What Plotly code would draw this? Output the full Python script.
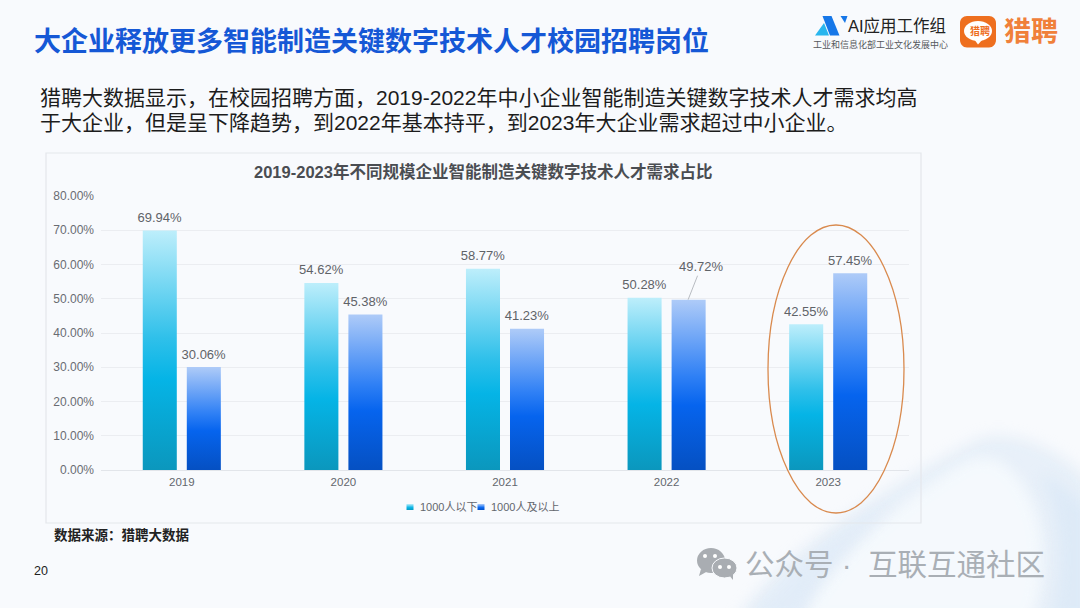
import plotly.graph_objects as go

W, H = 1080, 608
FONT = "Liberation Sans, Noto Sans CJK SC, sans-serif"

years = ["2019", "2020", "2021", "2022", "2023"]
small_name = "1000人以下"
large_name = "1000人及以上"
small_values = [69.94, 54.62, 58.77, 50.28, 42.55]
large_values = [30.06, 45.38, 41.23, 49.72, 57.45]

headline = "大企业释放更多智能制造关键数字技术人才校园招聘岗位"
body_1 = "猎聘大数据显示，在校园招聘方面，2019-2022年中小企业智能制造关键数字技术人才需求均高"
body_2 = "于大企业，但是呈下降趋势，到2022年基本持平，到2023年大企业需求超过中小企业。"
chart_title = "2019-2023年不同规模企业智能制造关键数字技术人才需求占比"
source_note = "数据来源：猎聘大数据"
page_no = "20"
watermark = "公众号 ·\u00a0 互联互通社区"

BG = "#f8fafd"


def px(x):
    return x / W


def py(y):
    return 1 - y / H


def note(text, x, y, size, color, bold=False, anchor="left"):
    t = f"<b>{text}</b>" if bold else text
    return dict(text=t, xref="paper", yref="paper", x=px(x), y=py(y), xanchor=anchor,
                yanchor="middle", showarrow=False, font=dict(family=FONT, size=size, color=color))


def path(d_px):
    """Turn a list of (cmd, x, y, ...) pixel tokens into a paper-space SVG path."""
    out = []
    for seg in d_px:
        cmd, pts = seg[0], seg[1:]
        coords = " ".join(f"{px(pts[i]):.5f},{py(pts[i + 1]):.5f}" for i in range(0, len(pts), 2))
        out.append(f"{cmd}{coords}")
    return " ".join(out) + " Z"


def blob(d_px, color, layer="above"):
    return dict(type="path", xref="paper", yref="paper", path=path(d_px), fillcolor=color,
                line=dict(width=0), layer=layer)


def ell(x0, y0, x1, y1, fill=None, line=None, width=0):
    return dict(type="circle", xref="paper", yref="paper", x0=px(x0), x1=px(x1), y0=py(y0), y1=py(y1),
                fillcolor=fill if fill else "rgba(0,0,0,0)",
                line=dict(color=line if line else "rgba(0,0,0,0)", width=width), layer="above")


fig = go.Figure()
fig.add_bar(name=small_name, x=years, y=small_values,
            text=[f"{v:.2f}%" for v in small_values], marker=dict(color="#19b6e2", line=dict(width=0)))
fig.add_bar(name=large_name, x=years, y=large_values,
            text=["" if y == "2022" else f"{v:.2f}%" for y, v in zip(years, large_values)],
            marker=dict(color="#1468ee", line=dict(width=0)))
fig.update_traces(textposition="outside", cliponaxis=False, hoverinfo="skip", constraintext="none",
                  textangle=0, textfont=dict(family=FONT, size=13, color="#5f6368"))

swirl = [
    blob([("M", 735, 620), ("C", 790, 540, 900, 480, 975, 440), ("C", 1010, 425, 1060, 450, 1090, 480),
          ("L", 1090, 620)], "rgba(205,224,243,0.38)", "below"),
    blob([("M", 800, 620), ("C", 830, 560, 900, 500, 965, 462), ("C", 1000, 445, 1030, 480, 1040, 530),
          ("C", 1045, 570, 1040, 600, 1030, 620)], "rgba(248,251,254,0.8)", "below"),
    blob([("M", 750, 620), ("C", 790, 570, 840, 530, 890, 505), ("C", 850, 545, 815, 580, 800, 620)],
         "rgba(220,234,247,0.55)", "below"),
    blob([("M", 1050, 620), ("C", 1065, 570, 1060, 510, 1040, 475), ("C", 1060, 480, 1080, 500, 1090, 510),
          ("L", 1090, 620)], "rgba(214,230,246,0.55)", "below"),
]

shapes = swirl + [
    # chart panel
    dict(type="rect", xref="paper", yref="paper", x0=px(46), x1=px(921), y0=py(523), y1=py(153),
         line=dict(color="#e4e7ec", width=1.2), fillcolor="rgba(0,0,0,0)", layer="above"),
    # highlight ellipse around 2023
    ell(768, 225, 904, 513, line="#d98a4e", width=1.3),
    # AI group logo
    blob([("M", 815, 35.5), ("L", 824, 23), ("L", 829, 35.5)], "#29b6ee"),
    blob([("M", 822.5, 16), ("L", 831.5, 16), ("L", 839.5, 35.5), ("L", 830, 35.5)], "#1677e8"),
    blob([("M", 840.5, 16), ("L", 847.5, 16), ("L", 845, 23)], "#1677e8"),
    # Liepin logo
    blob([("M", 967, 16), ("L", 989, 16), ("C", 993, 16, 996, 19, 996, 23), ("L", 996, 40),
          ("C", 996, 44, 993, 47.5, 989, 47.5), ("L", 967, 47.5), ("C", 963, 47.5, 960, 44, 960, 40),
          ("L", 960, 23), ("C", 960, 19, 963, 16, 967, 16)], "#ee6f1f"),
    ell(964, 21, 992, 41, fill="#ffffff"),
    blob([("M", 974, 39), ("L", 978, 44.5), ("L", 983, 39)], "#ffffff"),
    # WeChat mark in the watermark
    ell(697, 548, 725, 573, fill="#a9adb2"),
    blob([("M", 701, 569), ("L", 699, 576), ("L", 708, 571)], "#a9adb2"),
    ell(712, 558, 737, 578, fill="#a9adb2", line=BG, width=1),
    blob([("M", 729, 575), ("L", 733, 580), ("L", 733, 572)], "#a9adb2"),
    ell(703, 554, 707, 558, fill="#ffffff"),
    ell(713, 554, 717, 558, fill="#ffffff"),
    ell(718, 565, 722, 569, fill="#ffffff"),
    ell(727, 565, 731, 569, fill="#ffffff"),
]

annotations = [
    note(headline, 32, 41.5, 27, "#1558d6", bold=True),
    note(body_1, 38, 97.5, 21, "#1c1c1c"),
    note(body_2, 38, 122, 21, "#1c1c1c"),
    note(chart_title, 483, 171, 16.5, "#4a4d52", bold=True, anchor="center"),
    note(source_note, 52, 535, 13.5, "#222222", bold=True),
    note(page_no, 32, 571, 12.5, "#222222"),
    note("AI应用工作组", 846, 26, 16.5, "#222222"),
    note("工业和信息化部工业文化发展中心", 811, 44, 9, "#55585c"),
    note("猎聘", 968, 31, 10, "#ee6f1f", bold=True),
    note("猎聘", 1002, 32, 27, "#f0803a", bold=True),
    note(watermark, 743, 564, 29.5, "#a9afb5"),
    # the one data label that sits off its bar, tied back by a leader line
    dict(text=f"{large_values[3]:.2f}%", x=years.index("2022"), y=large_values[3], xref="x", yref="y",
         xshift=21.5, showarrow=True, arrowhead=0, arrowwidth=1, arrowcolor="#b8bcc2",
         ax=13, ay=-33, standoff=0, font=dict(family=FONT, size=13, color="#5f6368")),
]

fig.update_layout(
    width=W, height=H, autosize=False, margin=dict(l=0, r=0, t=0, b=0, autoexpand=False),
    paper_bgcolor=BG, plot_bgcolor="rgba(0,0,0,0)",
    barmode="group", bargap=0.455, bargroupgap=0.227,
    font=dict(family=FONT),
    xaxis=dict(domain=[px(101), px(909)], type="category", range=[-0.5, 4.5], automargin=False,
               showgrid=False, showline=True, ticklabelstandoff=1,
               linecolor="#e2e5ea", linewidth=1, ticks="", ticklen=0, fixedrange=True,
               tickfont=dict(family=FONT, size=11.5, color="#63676d")),
    yaxis=dict(domain=[py(470), py(196)], range=[0, 80], dtick=10, tickformat=".2f", ticksuffix="%",
               automargin=False, ticklabelstandoff=6,
               showgrid=True, gridcolor="#ebedf1", gridwidth=1, zeroline=False, showline=False, fixedrange=True,
               ticks="", tickfont=dict(family=FONT, size=12, color="#696c72")),
    legend=dict(orientation="h", x=px(390), y=py(507), xanchor="left", yanchor="middle",
                bgcolor="rgba(0,0,0,0)", entrywidth=26, entrywidthmode="pixels", itemclick=False,
                itemdoubleclick=False, traceorder="normal",
                font=dict(family=FONT, size=11, color="#63676d")),
    shapes=shapes,
    annotations=annotations,
)

post = r"""
document.body.style.margin = '0';
document.body.style.overflow = 'hidden';
document.body.style.background = '#f8fafd';
var gd = document.getElementById('{plot_id}');
var svg = gd.querySelector('svg.main-svg');
var NS = 'http://www.w3.org/2000/svg';
var defs = svg.querySelector('defs');
var stops = [
  [['0','#bdeefb'],['0.45','#2fc0ea'],['0.62','#05b4e6'],['1','#0b97bd']],
  [['0','#aecbf8'],['0.45','#2f80f5'],['0.62','#0664ee'],['1','#0550c2']]
];
stops.forEach(function (list, i) {
  var g = document.createElementNS(NS, 'linearGradient');
  g.setAttribute('id', 'bargrad' + i);
  g.setAttribute('x1', '0'); g.setAttribute('y1', '0');
  g.setAttribute('x2', '0'); g.setAttribute('y2', '1');
  list.forEach(function (s) {
    var st = document.createElementNS(NS, 'stop');
    st.setAttribute('offset', s[0]);
    st.setAttribute('stop-color', s[1]);
    g.appendChild(st);
  });
  defs.appendChild(g);
});
gd.querySelectorAll('.barlayer .trace').forEach(function (t, i) {
  t.querySelectorAll('path').forEach(function (p) { p.style.fill = 'url(#bargrad' + i + ')'; });
  t.querySelectorAll('text.bartext').forEach(function (x) {
    x.setAttribute('transform', 'translate(0,-2.5) ' + (x.getAttribute('transform') || ''));
  });
});
gd.querySelectorAll('.legend .traces').forEach(function (t, i) {
  t.querySelectorAll('.legendsymbols path').forEach(function (p) {
    var d = p.getAttribute('d') || '';
    if (d.indexOf('H') >= 0) {
      p.setAttribute('d', 'M3.5,3H-3.5V-3H3.5Z');
      p.style.fill = 'url(#bargrad' + i + ')';
    }
  });
  var tx = t.querySelector('text.legendtext');
  if (tx) { tx.setAttribute('x', '30'); }
});
var legendEls = gd.querySelectorAll('.legend, .legend *');
legendEls.forEach(function (el) {
  if (el.hasAttribute && el.hasAttribute('clip-path')) { el.removeAttribute('clip-path'); }
  if (el.style && el.style.clipPath) { el.style.clipPath = 'none'; }
});
gd.querySelectorAll('.layer-below .shapelayer path').forEach(function (p) {
  p.style.filter = 'blur(7px)';
});
"""

fig.write_html("out.html", post_script=post, config=dict(displayModeBar=False))
